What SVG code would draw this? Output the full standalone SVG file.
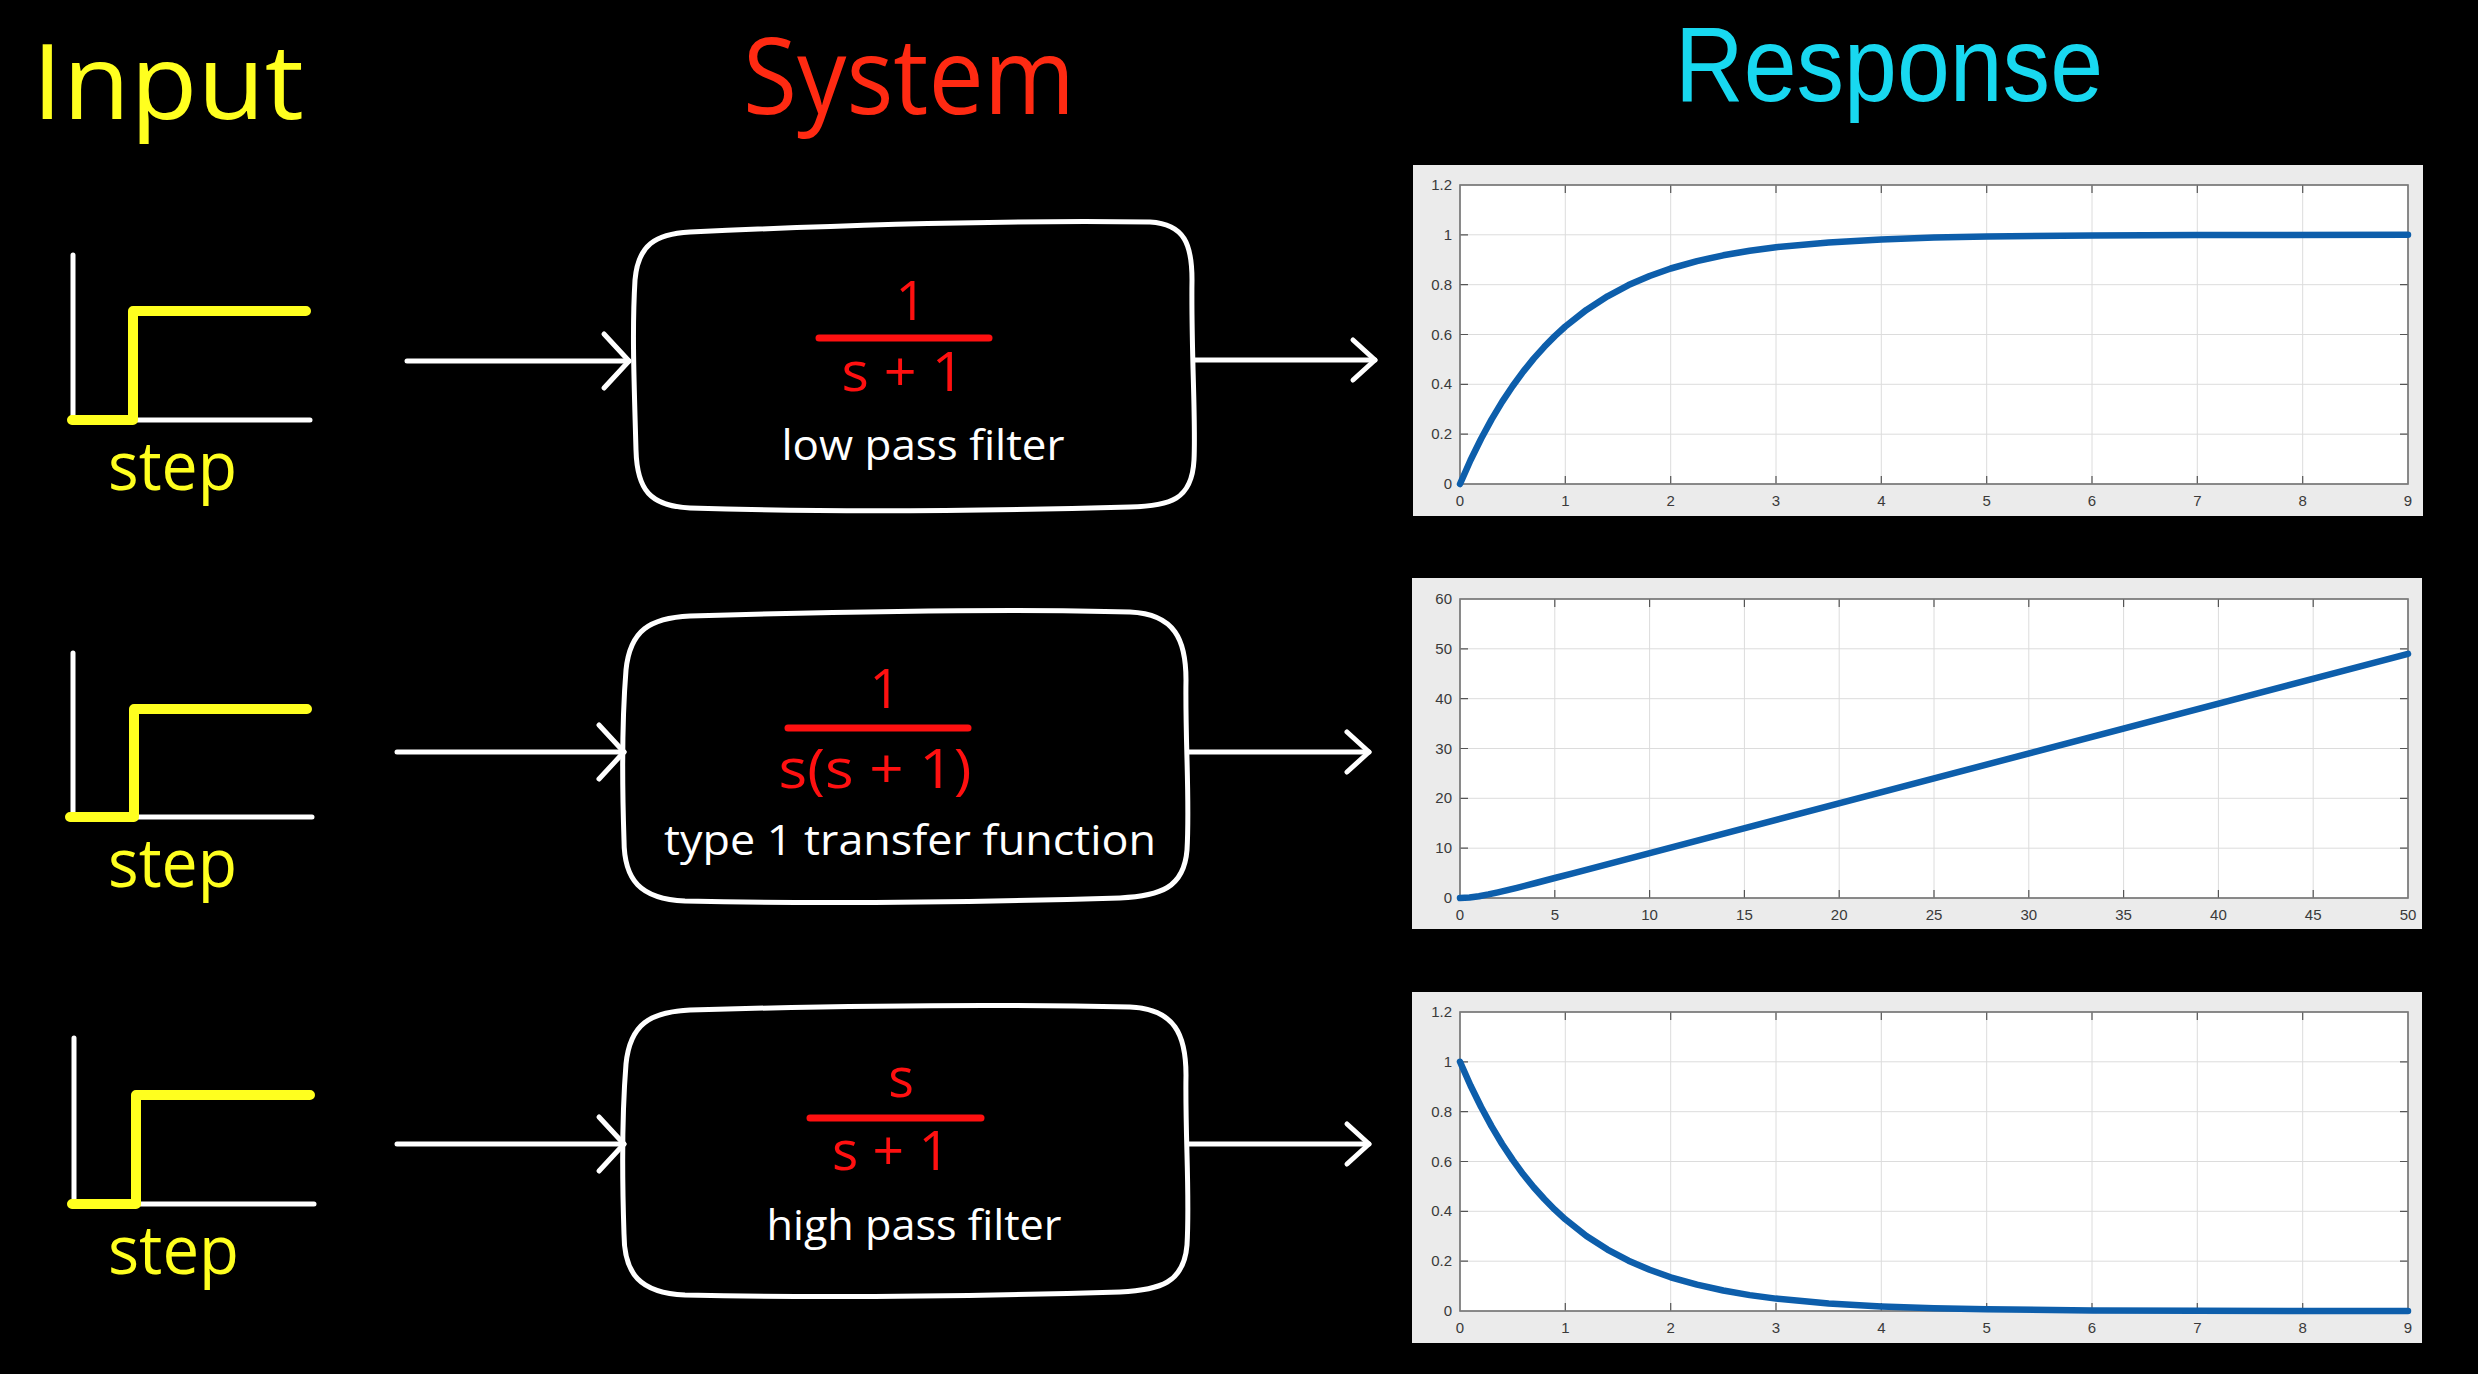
<svg xmlns="http://www.w3.org/2000/svg" width="2478" height="1374" viewBox="0 0 2478 1374">
<style>
.hand{font-family:"Open Sans","Liberation Sans",sans-serif}
.tick{font-family:"Liberation Sans",Arial,sans-serif;font-size:15px;fill:#3a3a3a}
.ty{text-anchor:end}
.tx{text-anchor:middle}
.grid{stroke:#dcdcdc;stroke-width:1;fill:none}
.tk{stroke:#555;stroke-width:1.2;fill:none}
.axes{fill:#fff;stroke:#7a7a7a;stroke-width:1.3}
.panel{fill:#ebebeb}
.curve{fill:none;stroke:#0d5eab;stroke-width:6.5;stroke-linejoin:round;stroke-linecap:round}
.box{fill:none;stroke:#fff;stroke-width:5;stroke-linejoin:round}
.wire{stroke:#fff;stroke-width:5;fill:none;stroke-linecap:round}
.sy{stroke:#ffff1f;stroke-width:10;fill:none;stroke-linecap:round;stroke-linejoin:round}
.sw{stroke:#fff;stroke-width:5;fill:none;stroke-linecap:round}
.bar{stroke:#ff1010;stroke-width:7;stroke-linecap:round}
.frac{fill:#ff1010;font-size:54px;text-anchor:middle}
.cap{fill:#fff;font-size:42px;text-anchor:middle}
.steptxt{fill:#ffff1f;font-size:68px}
</style>
<defs>
<marker id="chevIn" markerUnits="userSpaceOnUse" viewBox="-32 -34 38 68" refX="0" refY="0" markerWidth="38" markerHeight="68" orient="auto" overflow="visible">
<path d="M-25,-27 L0,0 L-25,27" fill="none" stroke="#fff" stroke-width="5" stroke-linecap="round" stroke-linejoin="round"/>
</marker>
<marker id="chevOut" markerUnits="userSpaceOnUse" viewBox="-32 -34 38 68" refX="0" refY="0" markerWidth="38" markerHeight="68" orient="auto" overflow="visible">
<path d="M-22,-20 L0,0 L-22,20" fill="none" stroke="#fff" stroke-width="5" stroke-linecap="round" stroke-linejoin="round"/>
</marker>
</defs>
<rect x="0" y="0" width="2478" height="1374" fill="#000"/>

<g id="headers" class="hand">
<text x="32" y="119" font-size="104" fill="#ffff1f" textLength="272" lengthAdjust="spacingAndGlyphs">Input</text>
<text x="743" y="114" font-size="106" fill="#ff2a12" textLength="332" lengthAdjust="spacingAndGlyphs">System</text>
<text x="1675" y="101" font-size="106" fill="#18d8f0" font-family="'Liberation Sans',Arial,sans-serif" textLength="428" lengthAdjust="spacingAndGlyphs">Response</text>
</g>

<g id="input-1">
<path class="sw" d="M73,255 V420 H310"/>
<path class="sy" d="M72,420 H133 V311 H306"/>
<text class="hand steptxt" x="108" y="490" textLength="129" lengthAdjust="spacingAndGlyphs">step</text>
</g>
<g id="input-2">
<path class="sw" d="M73,653 V817 H312"/>
<path class="sy" d="M70,817 H134 V709 H307"/>
<text class="hand steptxt" x="108" y="887" textLength="129" lengthAdjust="spacingAndGlyphs">step</text>
</g>
<g id="input-3">
<path class="sw" d="M74,1038 V1204 H314"/>
<path class="sy" d="M72,1204 H136 V1095 H310"/>
<text class="hand steptxt" x="108" y="1274" textLength="131" lengthAdjust="spacingAndGlyphs">step</text>
</g>

<g id="system-1" class="hand">
<path class="box" d="M690,232 C820,226 1000,220 1150,222 C1185,224 1192,245 1192,280 C1191,350 1196,420 1194,460 C1192,500 1170,506 1130,507 C980,511 820,512 690,508 C650,506 637,490 636,450 C634,380 632,330 635,280 C638,245 655,234 690,232 Z"/>
<text class="frac" x="911" y="320">1</text>
<line class="bar" x1="819" y1="338" x2="989" y2="338"/>
<text class="frac" x="903" y="391" textLength="123" lengthAdjust="spacingAndGlyphs">s + 1</text>
<text class="cap" x="923" y="460" textLength="283" lengthAdjust="spacingAndGlyphs">low pass filter</text>
</g>
<g id="system-2" class="hand">
<path class="box" d="M690,616 C830,612 1000,608 1130,612 C1175,614 1186,640 1186,680 C1185,740 1190,800 1187,850 C1184,888 1160,896 1120,898 C980,902 820,904 685,901 C640,899 624,880 624,840 C622,780 622,720 626,670 C630,630 650,618 690,616 Z"/>
<text class="frac" x="885" y="708">1</text>
<line class="bar" x1="788" y1="728" x2="968" y2="728"/>
<text class="frac" x="875" y="788" textLength="193" lengthAdjust="spacingAndGlyphs">s(s + 1)</text>
<text class="cap" x="910" y="855" textLength="492" lengthAdjust="spacingAndGlyphs">type 1 transfer function</text>
</g>
<g id="system-3" class="hand">
<path class="box" d="M690,1010 C830,1006 1000,1004 1130,1007 C1175,1009 1186,1035 1186,1075 C1185,1135 1190,1195 1187,1245 C1184,1283 1160,1290 1120,1292 C980,1296 820,1298 685,1295 C640,1293 624,1274 624,1234 C622,1174 622,1114 626,1064 C630,1024 650,1012 690,1010 Z"/>
<text class="frac" x="901" y="1097">s</text>
<line class="bar" x1="810" y1="1118" x2="981" y2="1118"/>
<text class="frac" x="891" y="1170" textLength="118" lengthAdjust="spacingAndGlyphs">s + 1</text>
<text class="cap" x="914" y="1240" textLength="295" lengthAdjust="spacingAndGlyphs">high pass filter</text>
</g>

<g id="connectors">
<line class="wire" x1="407" y1="361" x2="629" y2="361" marker-end="url(#chevIn)"/>
<line class="wire" x1="1194" y1="360" x2="1375" y2="360" marker-end="url(#chevOut)"/>
<line class="wire" x1="397" y1="752" x2="624" y2="752" marker-end="url(#chevIn)"/>
<line class="wire" x1="1188" y1="752" x2="1369" y2="752" marker-end="url(#chevOut)"/>
<line class="wire" x1="397" y1="1144" x2="624" y2="1144" marker-end="url(#chevIn)"/>
<line class="wire" x1="1188" y1="1144" x2="1369" y2="1144" marker-end="url(#chevOut)"/>
</g>

<g id="response-1">
<rect class="panel" x="1413" y="165" width="1010" height="351"/>
<rect class="axes" x="1460" y="185" width="948" height="299"/>
<path class="grid" d="M1565.3,185V484M1670.7,185V484M1776,185V484M1881.3,185V484M1986.7,185V484M2092,185V484M2197.3,185V484M2302.7,185V484M1460,434.2H2408M1460,384.3H2408M1460,334.5H2408M1460,284.7H2408M1460,234.8H2408"/>
<path class="tk" d="M1460,434.2h8M1460,384.3h8M1460,334.5h8M1460,284.7h8M1460,234.8h8M2408,434.2h-8M2408,384.3h-8M2408,334.5h-8M2408,284.7h-8M2408,234.8h-8M1565.3,484v-8M1670.7,484v-8M1776,484v-8M1881.3,484v-8M1986.7,484v-8M2092,484v-8M2197.3,484v-8M2302.7,484v-8M1565.3,185v8M1670.7,185v8M1776,185v8M1881.3,185v8M1986.7,185v8M2092,185v8M2197.3,185v8M2302.7,185v8"/>
<rect class="axes" x="1460" y="185" width="948" height="299" style="fill:none"/>
<polyline class="curve" points="1460,484 1470.5,460.3 1481.1,438.8 1491.6,419.4 1502.1,401.9 1512.7,386 1523.2,371.6 1533.7,358.6 1544.3,346.8 1554.8,336.1 1565.3,326.5 1586.4,309.9 1607.5,296.3 1628.5,285.1 1649.6,276 1670.7,268.5 1697,261.1 1723.3,255.3 1749.7,250.8 1776,247.2 1828.7,242.4 1881.3,239.4 1934,237.6 1986.7,236.5 2092,235.5 2197.3,235.1 2408,234.8"/>
<g class="tick ty">
<text x="1452" y="489">0</text><text x="1452" y="439.2">0.2</text><text x="1452" y="389.3">0.4</text><text x="1452" y="339.5">0.6</text><text x="1452" y="289.7">0.8</text><text x="1452" y="239.8">1</text><text x="1452" y="190">1.2</text>
</g>
<g class="tick tx">
<text x="1460" y="506">0</text><text x="1565.3" y="506">1</text><text x="1670.7" y="506">2</text><text x="1776" y="506">3</text><text x="1881.3" y="506">4</text><text x="1986.7" y="506">5</text><text x="2092" y="506">6</text><text x="2197.3" y="506">7</text><text x="2302.7" y="506">8</text><text x="2408" y="506">9</text>
</g>
</g>

<g id="response-2">
<rect class="panel" x="1412" y="578" width="1010" height="351"/>
<rect class="axes" x="1460" y="599" width="948" height="299"/>
<path class="grid" d="M1554.8,599V898M1649.6,599V898M1744.4,599V898M1839.2,599V898M1934,599V898M2028.8,599V898M2123.6,599V898M2218.4,599V898M2313.2,599V898M1460,848.2H2408M1460,798.3H2408M1460,748.5H2408M1460,698.7H2408M1460,648.8H2408"/>
<path class="tk" d="M1460,848.2h8M1460,798.3h8M1460,748.5h8M1460,698.7h8M1460,648.8h8M2408,848.2h-8M2408,798.3h-8M2408,748.5h-8M2408,698.7h-8M2408,648.8h-8M1554.8,898v-8M1649.6,898v-8M1744.4,898v-8M1839.2,898v-8M1934,898v-8M2028.8,898v-8M2123.6,898v-8M2218.4,898v-8M2313.2,898v-8M1554.8,599v8M1649.6,599v8M1744.4,599v8M1839.2,599v8M1934,599v8M2028.8,599v8M2123.6,599v8M2218.4,599v8M2313.2,599v8"/>
<rect class="axes" x="1460" y="599" width="948" height="299" style="fill:none"/>
<polyline class="curve" points="1460,898 1469.5,897.5 1479,896.2 1488.4,894.4 1497.9,892.3 1516.9,887.8 1535.8,883 1554.8,878 1573.8,873.1 2408,653.8"/>
<g class="tick ty">
<text x="1452" y="903">0</text><text x="1452" y="853.2">10</text><text x="1452" y="803.3">20</text><text x="1452" y="753.5">30</text><text x="1452" y="703.7">40</text><text x="1452" y="653.8">50</text><text x="1452" y="604">60</text>
</g>
<g class="tick tx">
<text x="1460" y="920">0</text><text x="1554.8" y="920">5</text><text x="1649.6" y="920">10</text><text x="1744.4" y="920">15</text><text x="1839.2" y="920">20</text><text x="1934" y="920">25</text><text x="2028.8" y="920">30</text><text x="2123.6" y="920">35</text><text x="2218.4" y="920">40</text><text x="2313.2" y="920">45</text><text x="2408" y="920">50</text>
</g>
</g>

<g id="response-3">
<rect class="panel" x="1412" y="992" width="1010" height="351"/>
<rect class="axes" x="1460" y="1012" width="948" height="299"/>
<path class="grid" d="M1565.3,1012V1311M1670.7,1012V1311M1776,1012V1311M1881.3,1012V1311M1986.7,1012V1311M2092,1012V1311M2197.3,1012V1311M2302.7,1012V1311M1460,1261.2H2408M1460,1211.3H2408M1460,1161.5H2408M1460,1111.7H2408M1460,1061.8H2408"/>
<path class="tk" d="M1460,1261.2h8M1460,1211.3h8M1460,1161.5h8M1460,1111.7h8M1460,1061.8h8M2408,1261.2h-8M2408,1211.3h-8M2408,1161.5h-8M2408,1111.7h-8M2408,1061.8h-8M1565.3,1311v-8M1670.7,1311v-8M1776,1311v-8M1881.3,1311v-8M1986.7,1311v-8M2092,1311v-8M2197.3,1311v-8M2302.7,1311v-8M1565.3,1012v8M1670.7,1012v8M1776,1012v8M1881.3,1012v8M1986.7,1012v8M2092,1012v8M2197.3,1012v8M2302.7,1012v8"/>
<rect class="axes" x="1460" y="1012" width="948" height="299" style="fill:none"/>
<polyline class="curve" points="1460,1061.8 1470.5,1085.5 1481.1,1107 1491.6,1126.4 1502.1,1144 1512.7,1159.9 1523.2,1174.3 1533.7,1187.3 1544.3,1199 1554.8,1209.7 1565.3,1219.3 1586.4,1236 1607.5,1249.6 1628.5,1260.7 1649.6,1269.8 1670.7,1277.3 1697,1284.7 1723.3,1290.5 1749.7,1295.1 1776,1298.6 1828.7,1303.5 1881.3,1306.4 1934,1308.2 1986.7,1309.3 2092,1310.4 2197.3,1310.8 2408,1311"/>
<g class="tick ty">
<text x="1452" y="1316">0</text><text x="1452" y="1266.2">0.2</text><text x="1452" y="1216.3">0.4</text><text x="1452" y="1166.5">0.6</text><text x="1452" y="1116.7">0.8</text><text x="1452" y="1066.8">1</text><text x="1452" y="1017">1.2</text>
</g>
<g class="tick tx">
<text x="1460" y="1333">0</text><text x="1565.3" y="1333">1</text><text x="1670.7" y="1333">2</text><text x="1776" y="1333">3</text><text x="1881.3" y="1333">4</text><text x="1986.7" y="1333">5</text><text x="2092" y="1333">6</text><text x="2197.3" y="1333">7</text><text x="2302.7" y="1333">8</text><text x="2408" y="1333">9</text>
</g>
</g>
</svg>
